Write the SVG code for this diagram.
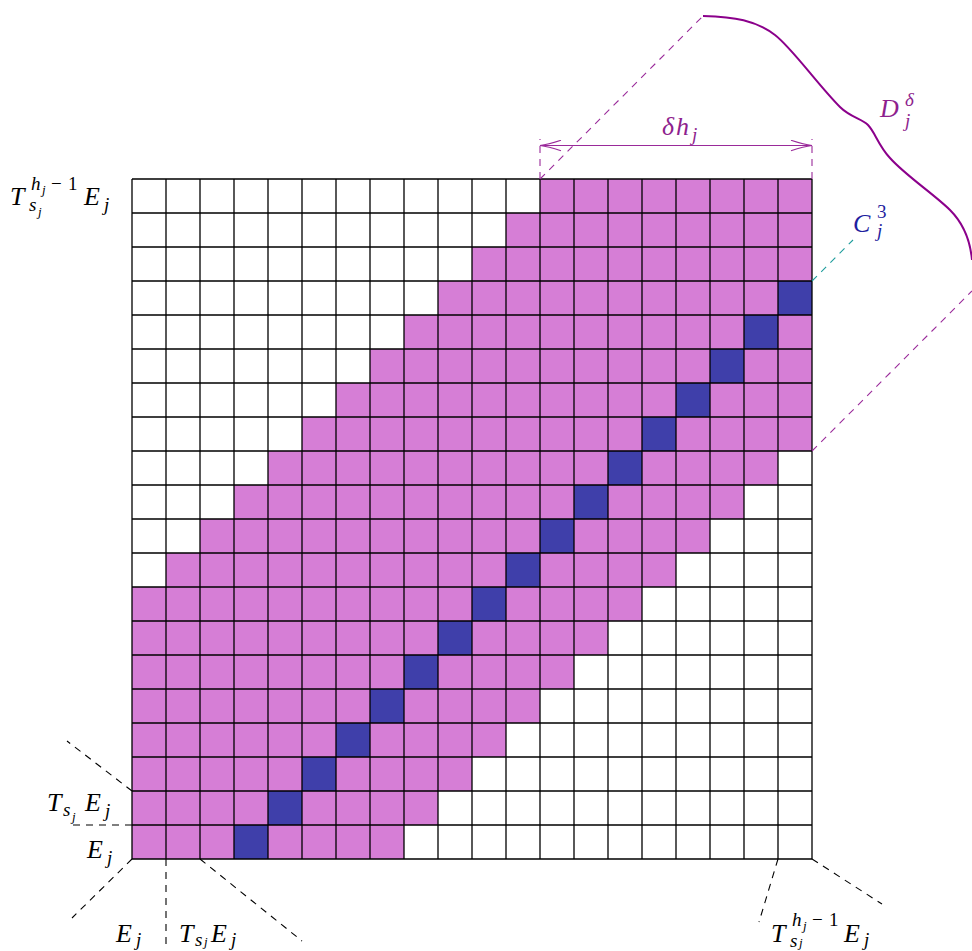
<svg xmlns="http://www.w3.org/2000/svg" width="972" height="951" viewBox="0 0 972 951">
<style>
.m{font-family:"Liberation Serif","DejaVu Serif",serif;font-style:italic;fill:#000}
.r{font-family:"Liberation Serif","DejaVu Serif",serif;font-style:normal}
.pl{fill:#8E1F8E}
.bl{fill:#1F1FA0}
.dash{fill:none;stroke:#000;stroke-width:1.1;stroke-dasharray:7,6}
.pdash{fill:none;stroke:#9A2A9A;stroke-width:1.1;stroke-dasharray:7,6}
.tdash{fill:none;stroke:#1E9C9C;stroke-width:1.1;stroke-dasharray:7,6}
</style>
<defs>
<marker id="arr" markerUnits="userSpaceOnUse" viewBox="0 0 23 12" refX="22" refY="6" markerWidth="23" markerHeight="12" orient="auto-start-reverse">
<path d="M1,0.8 Q14,5 22,6 Q14,7 1,11.2" fill="none" stroke="#9A2A9A" stroke-width="1.2"/>
</marker>
</defs>
<rect width="972" height="951" fill="#fff"/>
<g id="grid">
<path id="pink" fill="#D67ED6" d="M540,179 H812 V451 H778 V485 H744 V519 H710 V553 H676 V587 H642 V621 H608 V655 H574 V689 H540 V723 H506 V757 H472 V791 H438 V825 H404 V859 H132 V587 H166 V553 H200 V519 H234 V485 H268 V451 H302 V417 H336 V383 H370 V349 H404 V315 H438 V281 H472 V247 H506 V213 H540 Z"/>
<g id="diag" fill="#3F3FAA">
<rect x="778" y="281" width="34" height="34"/>
<rect x="744" y="315" width="34" height="34"/>
<rect x="710" y="349" width="34" height="34"/>
<rect x="676" y="383" width="34" height="34"/>
<rect x="642" y="417" width="34" height="34"/>
<rect x="608" y="451" width="34" height="34"/>
<rect x="574" y="485" width="34" height="34"/>
<rect x="540" y="519" width="34" height="34"/>
<rect x="506" y="553" width="34" height="34"/>
<rect x="472" y="587" width="34" height="34"/>
<rect x="438" y="621" width="34" height="34"/>
<rect x="404" y="655" width="34" height="34"/>
<rect x="370" y="689" width="34" height="34"/>
<rect x="336" y="723" width="34" height="34"/>
<rect x="302" y="757" width="34" height="34"/>
<rect x="268" y="791" width="34" height="34"/>
<rect x="234" y="825" width="34" height="34"/>
</g>
<path id="lines" fill="none" stroke="#000" stroke-width="1.3" d="M132,179V859M166,179V859M200,179V859M234,179V859M268,179V859M302,179V859M336,179V859M370,179V859M404,179V859M438,179V859M472,179V859M506,179V859M540,179V859M574,179V859M608,179V859M642,179V859M676,179V859M710,179V859M744,179V859M778,179V859M812,179V859M132,179H812M132,213H812M132,247H812M132,281H812M132,315H812M132,349H812M132,383H812M132,417H812M132,451H812M132,485H812M132,519H812M132,553H812M132,587H812M132,621H812M132,655H812M132,689H812M132,723H812M132,757H812M132,791H812M132,825H812M132,859H812"/>
</g>
<g id="connectors">
<path class="pdash" d="M540,179 L703,16"/>
<path class="pdash" d="M812,451 L972,291"/>
<path class="pdash" d="M540,179 V139 M812,179 V139"/>
<path d="M540,145.5 H812" fill="none" stroke="#9A2A9A" stroke-width="1.2" marker-start="url(#arr)" marker-end="url(#arr)"/>
<path d="M703,16 C735,17 755,20 775,35 C792,48 818,85 840,107 C850,117 862,119 868,125 C875,132 878,145 890,158 C905,175 935,195 950,210 C962,222 970,238 972,260" fill="none" stroke="#8B008B" stroke-width="2"/>
<path class="tdash" d="M812,281 L853,240"/>
<path class="dash" d="M132,791 L67,741"/>
<path class="dash" d="M132,825 H70"/>
<path class="dash" d="M132,859 L72,918"/>
<path class="dash" d="M166,859 V946"/>
<path class="dash" d="M200,859 L302,941"/>
<path class="dash" d="M778,859 L759,922"/>
<path class="dash" d="M812,859 L882,904"/>
</g>
<g id="label-top-left">
<text class="m"><tspan x="10" y="205" font-size="26">T</tspan><tspan x="31" y="190" font-size="19">h</tspan><tspan x="42" y="194" font-size="13">j</tspan><tspan class="r" x="51" y="190" font-size="19">−</tspan><tspan class="r" x="68" y="190" font-size="19">1</tspan><tspan x="29" y="211" font-size="19">s</tspan><tspan x="38" y="216" font-size="13">j</tspan><tspan x="84" y="205" font-size="26">E</tspan><tspan x="104" y="211" font-size="19">j</tspan></text>
</g>
<g id="label-left-TsE">
<text class="m"><tspan x="47" y="811" font-size="26">T</tspan><tspan x="63" y="816" font-size="19">s</tspan><tspan x="72" y="821" font-size="13">j</tspan><tspan x="85" y="811" font-size="26">E</tspan><tspan x="105" y="817" font-size="19">j</tspan></text>
</g>
<g id="label-left-E">
<text class="m"><tspan x="87" y="858" font-size="26">E</tspan><tspan x="107" y="864" font-size="19">j</tspan></text>
</g>
<g id="label-bottom-E">
<text class="m"><tspan x="116" y="942" font-size="26">E</tspan><tspan x="136" y="946" font-size="19">j</tspan></text>
</g>
<g id="label-bottom-TsE">
<text class="m"><tspan x="179" y="942" font-size="26">T</tspan><tspan x="195" y="946" font-size="19">s</tspan><tspan x="204" y="946" font-size="13">j</tspan><tspan x="211" y="942" font-size="26">E</tspan><tspan x="231" y="946" font-size="19">j</tspan></text>
</g>
<g id="label-bottom-right">
<text class="m"><tspan x="771" y="942" font-size="26">T</tspan><tspan x="792" y="926" font-size="19">h</tspan><tspan x="803" y="930" font-size="13">j</tspan><tspan class="r" x="812" y="926" font-size="19">−</tspan><tspan class="r" x="829" y="926" font-size="19">1</tspan><tspan x="790" y="947" font-size="19">s</tspan><tspan x="799" y="947" font-size="13">j</tspan><tspan x="844" y="942" font-size="26">E</tspan><tspan x="864" y="946" font-size="19">j</tspan></text>
</g>
<g id="label-delta-h">
<text class="m pl"><tspan x="662" y="135" font-size="26">δ</tspan><tspan x="676" y="135" font-size="26">h</tspan><tspan x="692" y="141" font-size="19">j</tspan></text>
</g>
<g id="label-D">
<text class="m pl"><tspan x="880" y="117" font-size="26">D</tspan><tspan x="905" y="106" font-size="19">δ</tspan><tspan x="905" y="127" font-size="19">j</tspan></text>
</g>
<g id="label-C">
<text class="m bl"><tspan x="853" y="232" font-size="26">C</tspan><tspan class="r" x="877" y="218" font-size="19">3</tspan><tspan x="877" y="237" font-size="19">j</tspan></text>
</g>
</svg>
